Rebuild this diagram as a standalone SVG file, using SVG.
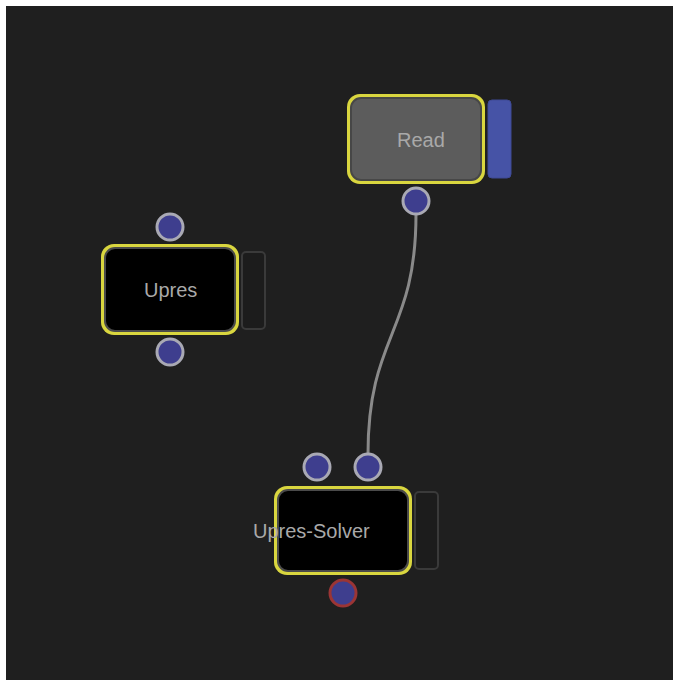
<svg xmlns="http://www.w3.org/2000/svg" width="673" height="680" viewBox="0 0 673 680">
  <defs>
    <style>
      .frame { fill: #d9d63f; }
      .body-dark { fill: #000000; stroke: #4a4a4a; stroke-width: 2; }
      .body-gray { fill: #5c5c5c; stroke: #474747; stroke-width: 2; }
      .side-empty { fill: #1c1c1c; stroke: #3a3a3a; stroke-width: 2; }
      .side-blue { fill: #4653a6; stroke: #3f4a96; stroke-width: 1; }
      .port { fill: #3e3e8e; stroke: #a9a9b4; stroke-width: 3; }
      .port-out { fill: #3e3e8e; stroke: #9b3535; stroke-width: 3; }
      .label { font-family: "Liberation Sans", Arial, sans-serif; font-size: 20px; fill: #a9a9a9; }
      .wire { fill: none; stroke: #8a8a8a; stroke-width: 3; }
    </style>
  </defs>

  <!-- canvas -->
  <rect x="0" y="0" width="673" height="680" fill="#ffffff"/>
  <rect x="6" y="6" width="667" height="674" fill="#1f1f1f"/>

  <!-- connectors -->
  <g id="connectors">
    <path class="wire" d="M416,214 C416,334 368,334 368,454"/>
  </g>

  <!-- Read node -->
  <g id="node-read">
    <rect class="frame" x="347" y="94" width="138" height="90" rx="13"/>
    <rect class="body-gray" x="351" y="98" width="130" height="82" rx="10"/>
    <rect class="side-blue" x="488" y="100" width="23" height="78" rx="4"/>
    <text class="label" x="397" y="147">Read</text>
    <circle class="port" cx="416" cy="201" r="13"/>
  </g>

  <!-- Upres node -->
  <g id="node-upres">
    <rect class="frame" x="101" y="244" width="138" height="91" rx="13"/>
    <rect class="body-dark" x="105" y="248" width="130" height="83" rx="10"/>
    <rect class="side-empty" x="242" y="252" width="23" height="77" rx="4"/>
    <text class="label" x="144" y="297">Upres</text>
    <circle class="port" cx="170" cy="227" r="13"/>
    <circle class="port" cx="170" cy="352" r="13"/>
  </g>

  <!-- Upres-Solver node -->
  <g id="node-upres-solver">
    <rect class="frame" x="274" y="486" width="138" height="89" rx="13"/>
    <rect class="body-dark" x="278" y="490" width="130" height="81" rx="10"/>
    <rect class="side-empty" x="415" y="492" width="23" height="77" rx="4"/>
    <text class="label" x="253" y="538">Upres-Solver</text>
    <circle class="port" cx="317" cy="467" r="13"/>
    <circle class="port" cx="368" cy="467" r="13"/>
    <circle class="port-out" cx="343" cy="593" r="13"/>
  </g>
</svg>
